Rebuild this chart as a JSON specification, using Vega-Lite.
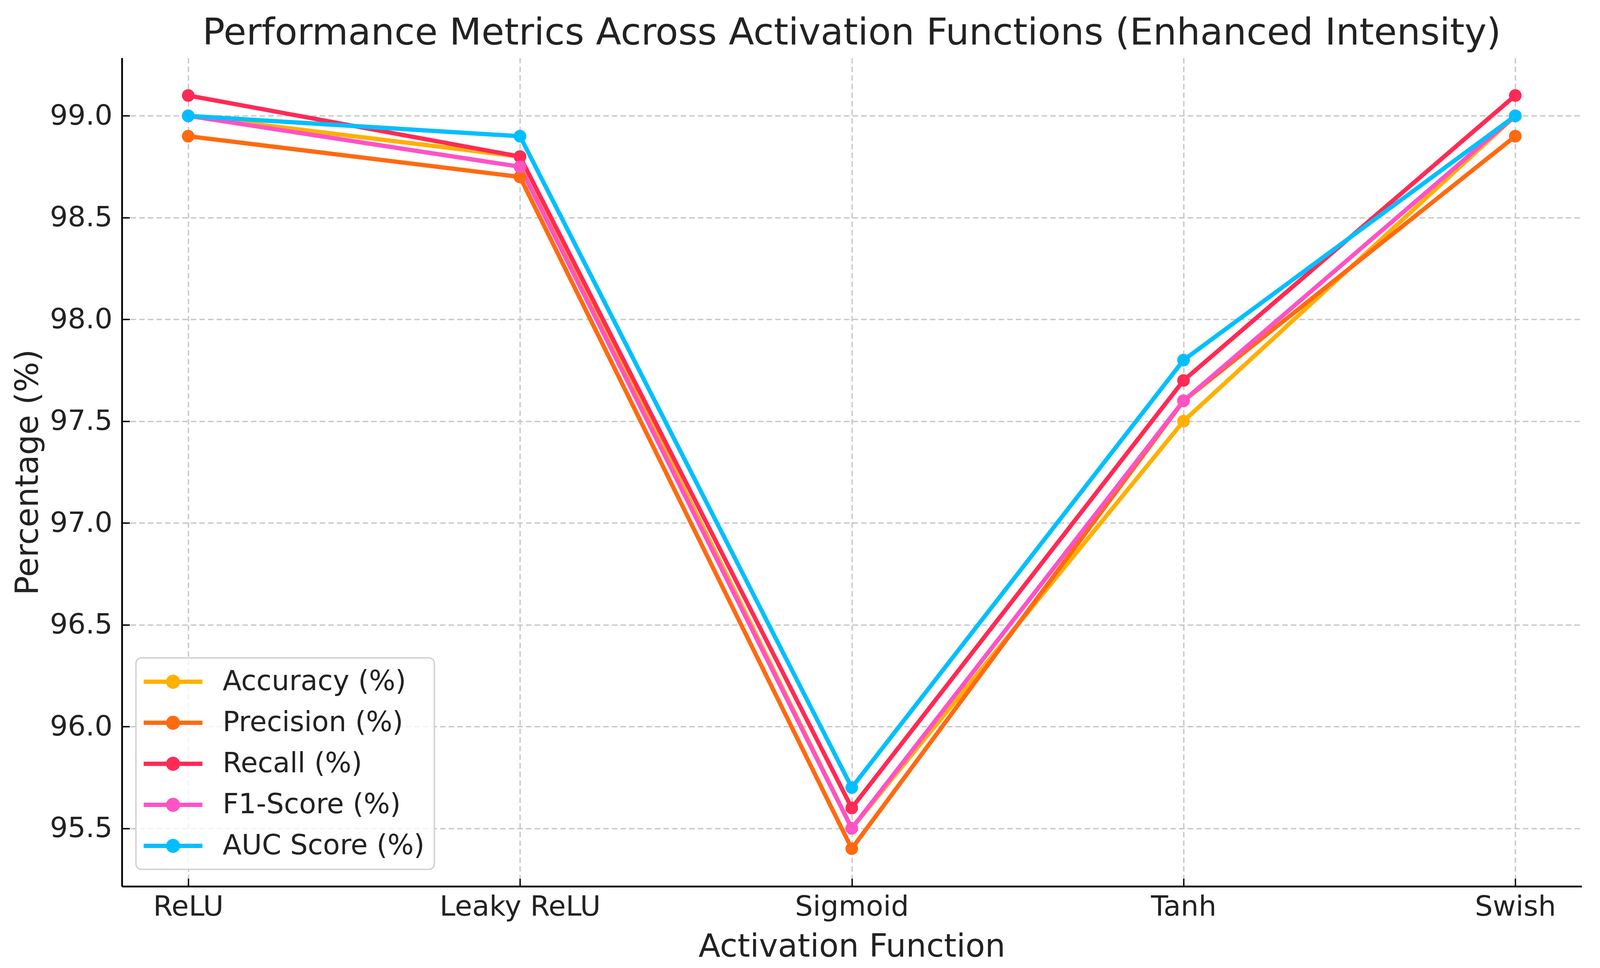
{
  "$schema": "https://vega.github.io/schema/vega-lite/v6.json",
  "autosize": "none",
  "width": 3737,
  "height": 2120,
  "padding": {"left": 312, "top": 148, "right": 47, "bottom": 209},
  "background": "white",
  "title": {
    "text": "Performance Metrics Across Activation Functions (Enhanced Intensity)",
    "font": "DejaVu Sans",
    "fontSize": 95,
    "fontWeight": "normal",
    "color": "#222222",
    "anchor": "middle",
    "offset": 14
  },
  "data": {
    "values": [
      {"activation": "ReLU", "metric": "Accuracy (%)", "value": 99.0},
      {"activation": "Leaky ReLU", "metric": "Accuracy (%)", "value": 98.8},
      {"activation": "Sigmoid", "metric": "Accuracy (%)", "value": 95.5},
      {"activation": "Tanh", "metric": "Accuracy (%)", "value": 97.5},
      {"activation": "Swish", "metric": "Accuracy (%)", "value": 99.0},
      {"activation": "ReLU", "metric": "Precision (%)", "value": 98.9},
      {"activation": "Leaky ReLU", "metric": "Precision (%)", "value": 98.7},
      {"activation": "Sigmoid", "metric": "Precision (%)", "value": 95.4},
      {"activation": "Tanh", "metric": "Precision (%)", "value": 97.6},
      {"activation": "Swish", "metric": "Precision (%)", "value": 98.9},
      {"activation": "ReLU", "metric": "Recall (%)", "value": 99.1},
      {"activation": "Leaky ReLU", "metric": "Recall (%)", "value": 98.8},
      {"activation": "Sigmoid", "metric": "Recall (%)", "value": 95.6},
      {"activation": "Tanh", "metric": "Recall (%)", "value": 97.7},
      {"activation": "Swish", "metric": "Recall (%)", "value": 99.1},
      {"activation": "ReLU", "metric": "F1-Score (%)", "value": 99.0},
      {"activation": "Leaky ReLU", "metric": "F1-Score (%)", "value": 98.75},
      {"activation": "Sigmoid", "metric": "F1-Score (%)", "value": 95.5},
      {"activation": "Tanh", "metric": "F1-Score (%)", "value": 97.6},
      {"activation": "Swish", "metric": "F1-Score (%)", "value": 99.0},
      {"activation": "ReLU", "metric": "AUC Score (%)", "value": 99.0},
      {"activation": "Leaky ReLU", "metric": "AUC Score (%)", "value": 98.9},
      {"activation": "Sigmoid", "metric": "AUC Score (%)", "value": 95.7},
      {"activation": "Tanh", "metric": "AUC Score (%)", "value": 97.8},
      {"activation": "Swish", "metric": "AUC Score (%)", "value": 99.0}
    ]
  },
  "encoding": {
    "x": {
      "field": "activation",
      "type": "nominal",
      "sort": ["ReLU", "Leaky ReLU", "Sigmoid", "Tanh", "Swish"],
      "scale": {"type": "point", "padding": 0.2},
      "axis": {
        "title": "Activation Function",
        "grid": true,
        "labelAngle": 0,
        "labelPadding": 37.5,
        "titleBaseline": "alphabetic",
        "titleX": 1868.5,
        "titleY": 179
      }
    },
    "y": {
      "field": "value",
      "type": "quantitative",
      "scale": {"domain": [95.215, 99.285], "nice": false, "zero": false},
      "axis": {
        "title": "Percentage (%)",
        "values": [95.5, 96.0, 96.5, 97.0, 97.5, 98.0, 98.5, 99.0],
        "format": ".1f",
        "labelPadding": 44.5,
        "titleAngle": -90,
        "titleAlign": "center",
        "titleBaseline": "middle",
        "titleX": -241,
        "titleY": 1060
      }
    },
    "color": {
      "field": "metric",
      "type": "nominal",
      "scale": {
        "domain": ["Accuracy (%)", "Precision (%)", "Recall (%)", "F1-Score (%)", "AUC Score (%)"],
        "range": ["#FFB000", "#FF6A10", "#FF2A55", "#FF52C4", "#00BFFF"]
      },
      "legend": {
        "title": null,
        "orient": "none",
        "legendX": 36,
        "legendY": 1535.5,
        "direction": "vertical",
        "symbolType": "M-2.09,-0.153H2.09V0.153H-2.09Z M-0.5,0A0.5,0.5 0 1,1 0.5,0A0.5,0.5 0 1,1 -0.5,0Z",
        "symbolSize": 5184,
        "symbolStrokeWidth": 0,
        "symbolOffset": 34,
        "labelOffset": 91,
        "labelFont": "DejaVu Sans",
        "labelFontSize": 71,
        "labelColor": "#222222",
        "labelLimit": 2000,
        "rowPadding": 34,
        "padding": 25,
        "encode": {
          "legend": {
            "update": {
              "stroke": {"value": "#d0d0d0"},
              "strokeWidth": {"value": 3.5},
              "cornerRadius": {"value": 14},
              "fill": {"value": "white"},
              "fillOpacity": {"value": 0.8}
            }
          },
          "symbols": {
            "update": {
              "fill": {"scale": "color", "field": "value"},
              "opacity": {"value": 1},
              "strokeWidth": {"value": 0}
            }
          }
        }
      }
    }
  },
  "layer": [
    {"mark": {"type": "line", "strokeWidth": 11, "strokeJoin": "round"}},
    {"mark": {"type": "point", "filled": true, "shape": "circle", "size": 1050, "opacity": 1}}
  ],
  "config": {
    "view": {"stroke": null},
    "axis": {
      "domainColor": "black",
      "domainWidth": 4.5,
      "tickColor": "black",
      "tickWidth": 3.5,
      "tickSize": -20,
      "labelFont": "DejaVu Sans",
      "labelFontSize": 72,
      "labelColor": "#222222",
      "labelLimit": 2000,
      "titleFont": "DejaVu Sans",
      "titleFontSize": 82,
      "titleFontWeight": "normal",
      "titleColor": "#222222",
      "gridColor": "#c8c8c8",
      "gridWidth": 3.5,
      "gridDash": [14, 8]
    }
  }
}
